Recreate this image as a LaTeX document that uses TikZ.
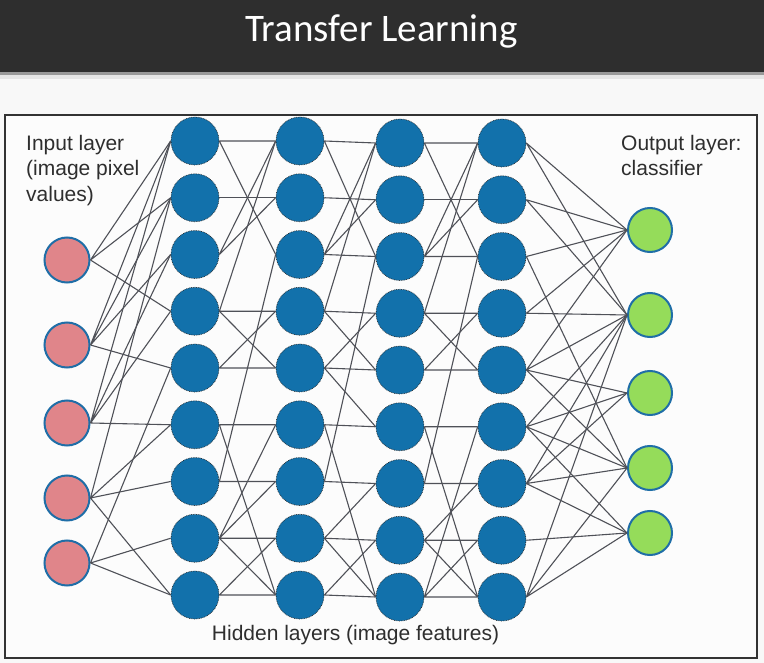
\documentclass[tikz,border=0pt]{standalone}
\usepackage{fontspec}
\setmainfont{Liberation Sans}
\newfontfamily\titlefont{Carlito}
\definecolor{header}{HTML}{2E2E2E}
\definecolor{page}{HTML}{F8F8F8}
\definecolor{boxline}{HTML}{333333}
\definecolor{hidden}{HTML}{1271AB}
\definecolor{rim}{HTML}{1F6EA7}
\definecolor{inputfill}{HTML}{E0858A}
\definecolor{outputfill}{HTML}{95DC5A}
\definecolor{wiregray}{HTML}{4F5158}
\definecolor{labelgray}{HTML}{2E2E2E}

\begin{document}
\begin{tikzpicture}[x=1pt, y=-1pt,
	hid/.style={circle, fill=hidden, draw=black!85, densely dotted, line width=0.7pt, minimum size=48pt, inner sep=0pt},
	inp/.style={circle, fill=inputfill, draw=rim, line width=2pt, minimum size=45pt, inner sep=0pt},
	outp/.style={circle, fill=outputfill, draw=rim, line width=2pt, minimum size=44pt, inner sep=0pt},
	wire/.style={draw=wiregray, line width=1.1pt},
	txt/.style={text=labelgray, font=\fontsize{21}{25.5}\selectfont, inner sep=0pt, align=left}]
		\useasboundingbox (0,0) rectangle (764,663);
		% page, header band and frame
		\fill[page] (0,0) rectangle (764,663);
		\fill[header] (0,0) rectangle (764,72);
		\fill[black!40] (0,72) rectangle (764,75);
		\fill[black!10] (0,75) rectangle (764,79);
		\node[text=white, font=\titlefont\fontsize{39}{39}\selectfont, anchor=base] (title) at (381.5,42) {Transfer Learning};
		\draw[boxline, line width=2.5pt, fill=white!60!page] (5,115) rectangle (757,658);
		% labels
		\node[txt, anchor=north west] (inlabel) at (26,135) {Input layer\\(image pixel\\values)};
		\node[txt, anchor=north west] (outlabel) at (621,135) {Output layer:\\classifier};
		\node[txt, anchor=base] (hidlabel) at (355.5,640) {Hidden layers (image features)};
		% input layer
		\node[inp] (i1) at (67,260) {};
		\node[inp] (i2) at (67,345) {};
		\node[inp] (i3) at (67,423) {};
		\node[inp] (i4) at (67,498) {};
		\node[inp] (i5) at (67,563) {};
		% hidden layers
		\node[hid] (a1) at (195,141) {};
		\node[hid] (a2) at (195,197.75) {};
		\node[hid] (a3) at (195,254.5) {};
		\node[hid] (a4) at (195,311.25) {};
		\node[hid] (a5) at (195,368) {};
		\node[hid] (a6) at (195,424.75) {};
		\node[hid] (a7) at (195,481.5) {};
		\node[hid] (a8) at (195,538.25) {};
		\node[hid] (a9) at (195,595) {};
		\node[hid] (b1) at (300,141) {};
		\node[hid] (b2) at (300,197.75) {};
		\node[hid] (b3) at (300,254.5) {};
		\node[hid] (b4) at (300,311.25) {};
		\node[hid] (b5) at (300,368) {};
		\node[hid] (b6) at (300,424.75) {};
		\node[hid] (b7) at (300,481.5) {};
		\node[hid] (b8) at (300,538.25) {};
		\node[hid] (b9) at (300,595) {};
		\node[hid] (c1) at (400,143) {};
		\node[hid] (c2) at (400,199.75) {};
		\node[hid] (c3) at (400,256.5) {};
		\node[hid] (c4) at (400,313.25) {};
		\node[hid] (c5) at (400,370) {};
		\node[hid] (c6) at (400,426.75) {};
		\node[hid] (c7) at (400,483.5) {};
		\node[hid] (c8) at (400,540.25) {};
		\node[hid] (c9) at (400,597) {};
		\node[hid] (d1) at (502,143) {};
		\node[hid] (d2) at (502,199.75) {};
		\node[hid] (d3) at (502,256.5) {};
		\node[hid] (d4) at (502,313.25) {};
		\node[hid] (d5) at (502,370) {};
		\node[hid] (d6) at (502,426.75) {};
		\node[hid] (d7) at (502,483.5) {};
		\node[hid] (d8) at (502,540.25) {};
		\node[hid] (d9) at (502,597) {};
		% output layer
		\node[outp] (o1) at (650,230) {};
		\node[outp] (o2) at (650,315) {};
		\node[outp] (o3) at (650,393) {};
		\node[outp] (o4) at (650,468) {};
		\node[outp] (o5) at (650,533) {};
		% input -> first hidden
		\draw[wire] (i1.east) -- (a1.west) (i1.east) -- (a2.west) (i1.east) -- (a4.west);
		\draw[wire] (i2.east) -- (a1.west) (i2.east) -- (a2.west) (i2.east) -- (a3.west) (i2.east) -- (a5.west);
		\draw[wire] (i3.east) -- (a1.west) (i3.east) -- (a3.west) (i3.east) -- (a4.west) (i3.east) -- (a6.west);
		\draw[wire] (i4.east) -- (a2.west) (i4.east) -- (a6.west) (i4.east) -- (a7.west) (i4.east) -- (a9.west);
		\draw[wire] (i5.east) -- (a5.west) (i5.east) -- (a8.west) (i5.east) -- (a9.west);
		% first -> second hidden
		\draw[wire] (a1.east) -- (b1.west) (a1.east) -- (b3.west);
		\draw[wire] (a2.east) -- (b2.west);
		\draw[wire] (a3.east) -- (b1.west) (a3.east) -- (b2.west);
		\draw[wire] (a4.east) -- (b1.west) (a4.east) -- (b4.west) (a4.east) -- (b5.west);
		\draw[wire] (a5.east) -- (b4.west) (a5.east) -- (b5.west);
		\draw[wire] (a6.east) -- (b6.west) (a6.east) -- (b9.west);
		\draw[wire] (a7.east) -- (b3.west) (a7.east) -- (b7.west);
		\draw[wire] (a8.east) -- (b6.west) (a8.east) -- (b7.west) (a8.east) -- (b8.west) (a8.east) -- (b9.west);
		\draw[wire] (a9.east) -- (b8.west) (a9.east) -- (b9.west);
		% second -> third hidden
		\draw[wire] (b1.east) -- (c1.west) (b1.east) -- (c3.west);
		\draw[wire] (b2.east) -- (c2.west);
		\draw[wire] (b3.east) -- (c1.west) (b3.east) -- (c2.west) (b3.east) -- (c3.west);
		\draw[wire] (b4.east) -- (c1.west) (b4.east) -- (c4.west) (b4.east) -- (c5.west);
		\draw[wire] (b5.east) -- (c4.west) (b5.east) -- (c5.west) (b5.east) -- (c6.west);
		\draw[wire] (b6.east) -- (c6.west) (b6.east) -- (c9.west);
		\draw[wire] (b7.east) -- (c3.west) (b7.east) -- (c7.west);
		\draw[wire] (b8.east) -- (c7.west) (b8.east) -- (c8.west) (b8.east) -- (c9.west);
		\draw[wire] (b9.east) -- (c8.west) (b9.east) -- (c9.west);
		% third -> fourth hidden
		\draw[wire] (c1.east) -- (d1.west) (c1.east) -- (d3.west);
		\draw[wire] (c2.east) -- (d2.west);
		\draw[wire] (c3.east) -- (d1.west) (c3.east) -- (d2.west) (c3.east) -- (d3.west);
		\draw[wire] (c4.east) -- (d1.west) (c4.east) -- (d4.west) (c4.east) -- (d5.west);
		\draw[wire] (c5.east) -- (d4.west) (c5.east) -- (d5.west);
		\draw[wire] (c6.east) -- (d6.west) (c6.east) -- (d9.west);
		\draw[wire] (c7.east) -- (d3.west) (c7.east) -- (d7.west);
		\draw[wire] (c8.east) -- (d7.west) (c8.east) -- (d8.west) (c8.east) -- (d9.west);
		\draw[wire] (c9.east) -- (d6.west) (c9.east) -- (d8.west) (c9.east) -- (d9.west);
		% fourth hidden -> output
		\draw[wire] (d1.east) -- (o1.west) (d1.east) -- (o2.west);
		\draw[wire] (d2.east) -- (o1.west) (d2.east) -- (o2.west);
		\draw[wire] (d3.east) -- (o1.west) (d3.east) -- (o4.west);
		\draw[wire] (d4.east) -- (o1.west) (d4.east) -- (o2.west);
		\draw[wire] (d5.east) -- (o1.west) (d5.east) -- (o2.west) (d5.east) -- (o3.west) (d5.east) -- (o4.west);
		\draw[wire] (d6.east) -- (o2.west) (d6.east) -- (o3.west) (d6.east) -- (o4.west) (d6.east) -- (o5.west);
		\draw[wire] (d7.east) -- (o2.west) (d7.east) -- (o3.west) (d7.east) -- (o4.west) (d7.east) -- (o5.west);
		\draw[wire] (d8.east) -- (o5.west);
		\draw[wire] (d9.east) -- (o2.west) (d9.east) -- (o4.west) (d9.east) -- (o5.west);
	\end{tikzpicture}
\end{document}
